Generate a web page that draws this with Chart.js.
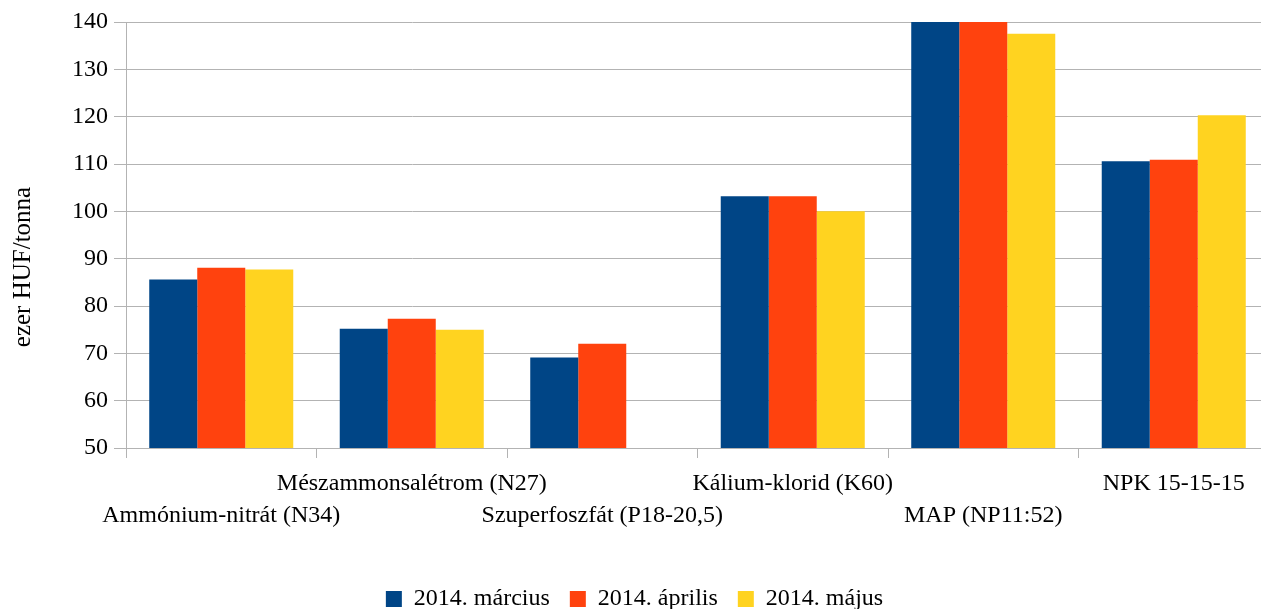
<!DOCTYPE html>
<html>
<head>
<meta charset="utf-8">
<script src="https://cdn.jsdelivr.net/npm/chart.js@4/dist/chart.umd.min.js"></script>
<style>
html,body{margin:0;padding:0;background:#fff;overflow:hidden;}
#wrap{width:1274px;height:609px;position:relative;}
</style>
</head>
<body>
<div id="wrap"><canvas id="c" width="1274" height="609"></canvas></div>
<script>
const categories = [
  ['', 'Ammónium-nitrát (N34)'],
  ['Mészammonsalétrom (N27)', ''],
  ['', 'Szuperfoszfát (P18-20,5)'],
  ['Kálium-klorid (K60)', ''],
  ['', 'MAP (NP11:52)'],
  ['NPK 15-15-15', '']
];
const seriesNames = ['2014. március', '2014. április', '2014. május'];
const marcius = [85.6, 75.2, 69.1, 103.2, 140, 110.6];
const aprilis = [88.1, 77.3, 72.0, 103.2, 140, 110.9];
const majus   = [87.7, 75.0, null, 100.0, 137.5, 120.3];
const yTicks = [50, 60, 70, 80, 90, 100, 110, 120, 130, 140];
const yTitle = 'ezer HUF/tonna';
const colors = ['#004586', '#ff420e', '#ffd320'];

const FONT = "'Liberation Serif', 'Times New Roman', serif";
Chart.defaults.font.family = FONT;
Chart.defaults.color = '#000';
const PLOT_BOTTOM = 448;
const BOTTOM_PAD = -12;

const yTitlePlugin = {
  id: 'yTitle',
  afterDraw(chart) {
    const ctx = chart.ctx;
    const a = chart.chartArea;
    ctx.save();
    ctx.translate(23, (a.top + a.bottom) / 2 + 32);
    ctx.rotate(-Math.PI / 2);
    ctx.font = "25px " + FONT;
    ctx.fillStyle = '#000';
    ctx.textAlign = 'center';
    ctx.textBaseline = 'middle';
    ctx.fillText(yTitle, 0, 0);
    ctx.restore();
  }
};

new Chart(document.getElementById('c'), {
  type: 'bar',
  data: {
    labels: categories,
    datasets: [marcius, aprilis, majus].map((d, i) => ({
      label: seriesNames[i],
      data: d,
      backgroundColor: colors[i],
      borderWidth: 0,
      barPercentage: 1,
      categoryPercentage: 0.756
    }))
  },
  plugins: [yTitlePlugin],
  options: {
    responsive: false,
    animation: false,
    layout: { padding: { left: 0, right: 5, top: 22, bottom: BOTTOM_PAD } },
    plugins: {
      tooltip: { enabled: false },
      legend: {
        position: 'bottom',
        labels: {
          font: { size: 24, family: FONT },
          boxWidth: 16, boxHeight: 16,
          padding: 20,
          color: '#000'
        }
      }
    },
    scales: {
      x: {
        grid: { display: true, drawOnChartArea: false, drawTicks: true, tickLength: 10, color: '#b3b3b3', offset: true },
        border: { display: true, color: '#b3b3b3' },
        ticks: { font: { size: 24, family: FONT, lineHeight: 1.333 }, maxRotation: 0, autoSkip: false, padding: 10, color: '#000' },
        afterFit: s => { s.height = 609 - BOTTOM_PAD - PLOT_BOTTOM - s.chart.legend.height; }
      },
      y: {
        min: 50, max: 140,
        afterBuildTicks: s => { s.ticks = yTicks.map(v => ({ value: v })); },
        grid: { color: '#b3b3b3', tickLength: 12, lineWidth: 1 },
        border: { display: true, color: '#b3b3b3' },
        ticks: { font: { size: 24, family: FONT }, padding: 6, color: '#000' },
        title: { display: false },
        afterFit: s => { s.width = 126; }
      }
    }
  }
});
</script>
</body>
</html>
